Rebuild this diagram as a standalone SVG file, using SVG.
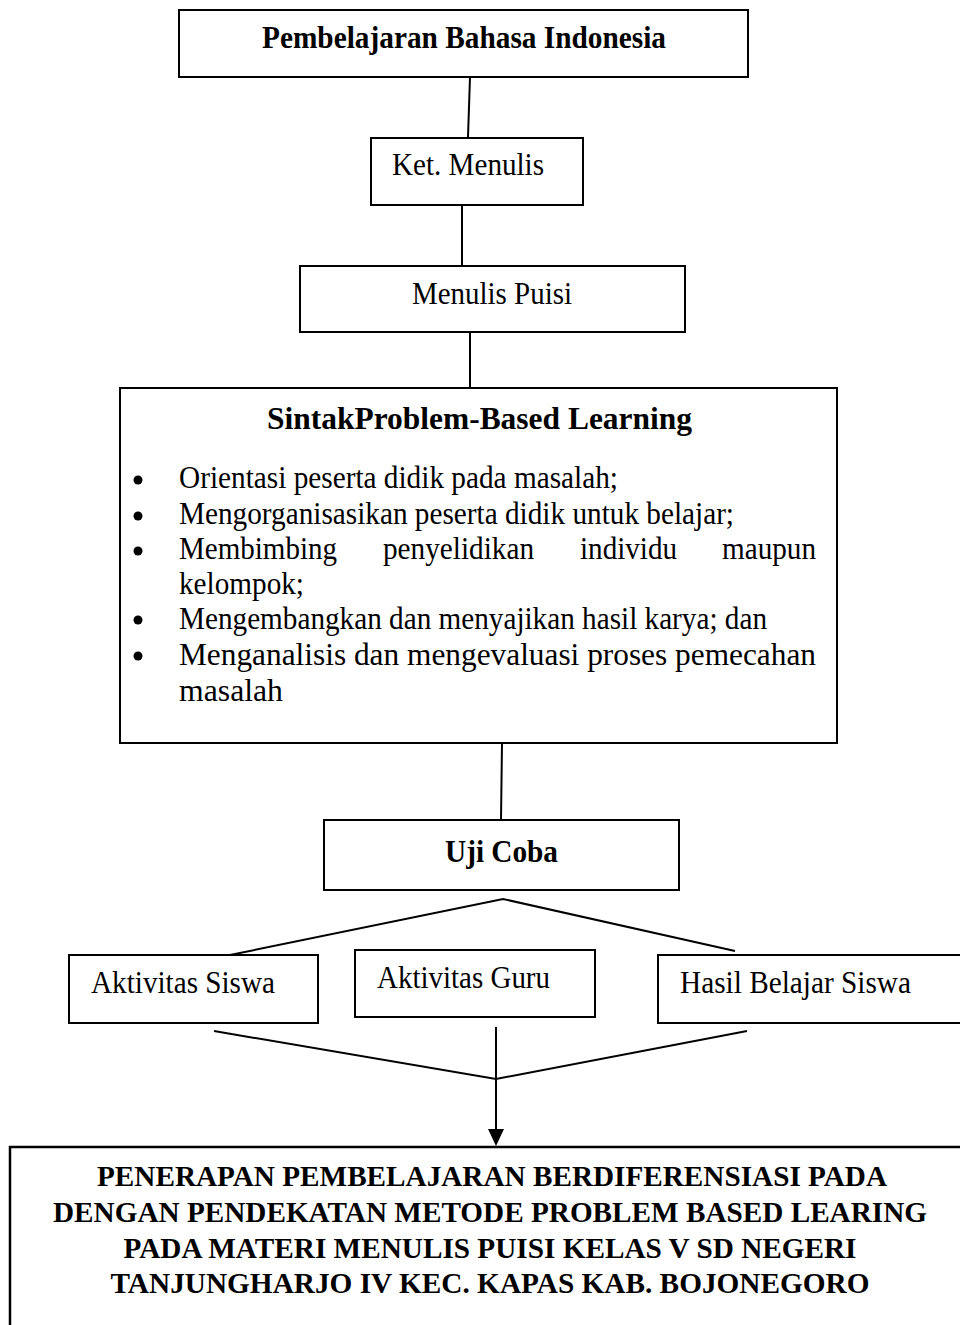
<svg xmlns="http://www.w3.org/2000/svg" width="960" height="1325" viewBox="0 0 960 1325">
<style>
.box{fill:#fff;stroke:#000;stroke-width:2}
.ln{fill:none;stroke:#000;stroke-width:2}
.t{font-family:"Liberation Serif","Times New Roman",Times,serif;font-size:31px;fill:#000}
.b{font-weight:bold}
.r{font-size:29px}
</style>
<rect width="960" height="1325" fill="#fff"/>
<g id="connectors">
<line class="ln" x1="470" y1="77" x2="468" y2="137"/>
<line class="ln" x1="462" y1="205" x2="462" y2="266"/>
<line class="ln" x1="470" y1="332" x2="470" y2="387"/>
<line class="ln" x1="502" y1="743" x2="501" y2="820"/>
<polyline class="ln" points="230,955 503,899 735,951"/>
<polyline class="ln" points="214,1031 496,1079 747,1031"/>
<line class="ln" x1="496" y1="1027" x2="496" y2="1131"/>
<polygon points="488,1129 504,1129 496,1146" fill="#000"/>
</g>
<g id="n-top">
<rect class="box" x="179" y="10" width="569" height="67"/>
<text class="t b" x="262" y="48" textLength="404" lengthAdjust="spacingAndGlyphs">Pembelajaran Bahasa Indonesia</text>
</g>
<g id="n-ket">
<rect class="box" x="371" y="138" width="212" height="67"/>
<text class="t" x="392" y="175" textLength="152" lengthAdjust="spacingAndGlyphs">Ket. Menulis</text>
</g>
<g id="n-puisi">
<rect class="box" x="300" y="266" width="385" height="66"/>
<text class="t" x="412" y="304" textLength="160" lengthAdjust="spacingAndGlyphs">Menulis Puisi</text>
</g>
<g id="n-sintak">
<rect class="box" x="120" y="388" width="717" height="355"/>
<text class="t b" x="267" y="429" textLength="425" lengthAdjust="spacingAndGlyphs">SintakProblem-Based Learning</text>
<circle cx="138" cy="480" r="4.5"/>
<circle cx="138" cy="516" r="4.5"/>
<circle cx="138" cy="551" r="4.5"/>
<circle cx="138" cy="620" r="4.5"/>
<circle cx="138" cy="656" r="4.5"/>
<text class="t" x="179" y="488" textLength="439" lengthAdjust="spacingAndGlyphs">Orientasi peserta didik pada masalah;</text>
<text class="t" x="179" y="524" textLength="555" lengthAdjust="spacingAndGlyphs">Mengorganisasikan peserta didik untuk belajar;</text>
<text class="t" x="179" y="559" textLength="158" lengthAdjust="spacingAndGlyphs">Membimbing</text>
<text class="t" x="383" y="559" textLength="151" lengthAdjust="spacingAndGlyphs">penyelidikan</text>
<text class="t" x="580" y="559" textLength="97" lengthAdjust="spacingAndGlyphs">individu</text>
<text class="t" x="722" y="559" textLength="94" lengthAdjust="spacingAndGlyphs">maupun</text>
<text class="t" x="179" y="594" textLength="125" lengthAdjust="spacingAndGlyphs">kelompok;</text>
<text class="t" x="179" y="629" textLength="588" lengthAdjust="spacingAndGlyphs">Mengembangkan dan menyajikan hasil karya; dan</text>
<text class="t" x="179" y="665" textLength="637" lengthAdjust="spacingAndGlyphs">Menganalisis dan mengevaluasi proses pemecahan</text>
<text class="t" x="179" y="701" textLength="104" lengthAdjust="spacingAndGlyphs">masalah</text>
</g>
<g id="n-uji">
<rect class="box" x="324" y="820" width="355" height="70"/>
<text class="t b" x="445" y="862" textLength="113" lengthAdjust="spacingAndGlyphs">Uji Coba</text>
</g>
<g id="n-siswa">
<rect class="box" x="69" y="955" width="249" height="68"/>
<text class="t" x="91" y="993" textLength="184" lengthAdjust="spacingAndGlyphs">Aktivitas Siswa</text>
</g>
<g id="n-guru">
<rect class="box" x="355" y="950" width="240" height="67"/>
<text class="t" x="377" y="988" textLength="173" lengthAdjust="spacingAndGlyphs">Aktivitas Guru</text>
</g>
<g id="n-hasil">
<rect class="box" x="658" y="955" width="310" height="68"/>
<text class="t" x="680" y="993" textLength="231" lengthAdjust="spacingAndGlyphs">Hasil Belajar Siswa</text>
</g>
<g id="n-result">
<rect class="box" x="10" y="1147" width="965" height="200" style="stroke-width:2.5"/>
<text class="t b r" x="492" y="1186" text-anchor="middle" textLength="790" lengthAdjust="spacingAndGlyphs">PENERAPAN PEMBELAJARAN BERDIFERENSIASI PADA</text>
<text class="t b r" x="490" y="1222" text-anchor="middle" textLength="874" lengthAdjust="spacingAndGlyphs">DENGAN PENDEKATAN METODE PROBLEM BASED LEARING</text>
<text class="t b r" x="490" y="1258" text-anchor="middle" textLength="733" lengthAdjust="spacingAndGlyphs">PADA MATERI MENULIS PUISI KELAS V SD NEGERI</text>
<text class="t b r" x="490" y="1293" text-anchor="middle" textLength="759" lengthAdjust="spacingAndGlyphs">TANJUNGHARJO IV KEC. KAPAS KAB. BOJONEGORO</text>
</g>
</svg>
